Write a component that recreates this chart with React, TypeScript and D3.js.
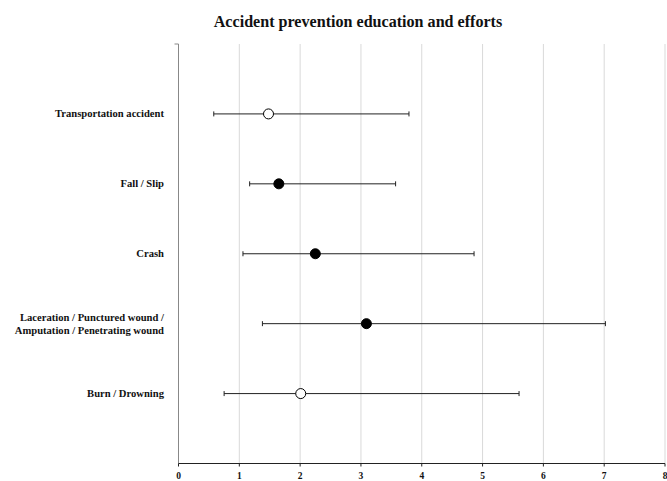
import React from "react";
import * as d3 from "d3";

const categories = [
  ["Transportation accident"],
  ["Fall / Slip"],
  ["Crash"],
  ["Laceration / Punctured wound /", "Amputation / Penetrating wound"],
  ["Burn / Drowning"],
];
const estimates = [1.48, 1.65, 2.25, 3.09, 2.01];
const lower = [0.58, 1.17, 1.06, 1.38, 0.75];
const upper = [3.79, 3.57, 4.86, 7.02, 5.6];
const filled = [false, true, true, true, false];
const xTicks = [0, 1, 2, 3, 4, 5, 6, 7, 8];
const title = "Accident prevention education and efforts";

export default function App() {
  const W = 667, H = 481;
  const left = 178.5, right = 665, top = 44, bottom = 463.5;
  const x = d3.scaleLinear().domain([0, 8]).range([left, right]);
  const y = d3.scalePoint<number>().domain(d3.range(categories.length)).range([top, bottom]).padding(1);
  const font = "'Liberation Serif', 'Times New Roman', serif";
  return (
    <svg width={W} height={H} style={{ position: "absolute", left: 0, top: 0 }} fontFamily={font}>
      <rect width={W} height={H} fill="#fff" />
      <text x={358} y={27} textAnchor="middle" fontSize={16.1} fontWeight="bold" fill="#111">{title}</text>
      {xTicks.slice(1).map((t) => (
        <line key={t} x1={x(t)} x2={x(t)} y1={top} y2={bottom} stroke="#d9d9d9" strokeWidth={1} />
      ))}
      <line x1={left} x2={left} y1={top} y2={bottom} stroke="#888" strokeWidth={1} />
      <line x1={left - 4} x2={left} y1={top} y2={top} stroke="#888" strokeWidth={1} />
      <line x1={left} x2={right} y1={bottom} y2={bottom} stroke="#222" strokeWidth={1.2} />
      {xTicks.map((t) => (
        <g key={t}>
          <line x1={x(t)} x2={x(t)} y1={bottom} y2={bottom + 3} stroke="#222" />
          <text x={x(t)} y={bottom + 15.5} textAnchor="middle" fontSize={9.5} fontWeight="bold" fill="#111">{t}</text>
        </g>
      ))}
      {categories.map((lines, i) => {
        const cy = y(i)!;
        return (
          <g key={i}>
            {lines.map((l, j) => (
              <text key={j} x={164} y={cy + 3.5 + (j - (lines.length - 1) / 2) * 13} textAnchor="end" fontSize={10.6} fontWeight="bold" fill="#111">{l}</text>
            ))}
            <line x1={x(lower[i])} x2={x(upper[i])} y1={cy} y2={cy} stroke="#222" strokeWidth={1} />
            <line x1={x(lower[i])} x2={x(lower[i])} y1={cy - 2.5} y2={cy + 2.5} stroke="#222" />
            <line x1={x(upper[i])} x2={x(upper[i])} y1={cy - 2.5} y2={cy + 2.5} stroke="#222" />
            <circle cx={x(estimates[i])} cy={cy} r={5} fill={filled[i] ? "#000" : "#fff"} stroke="#000" strokeWidth={1} />
          </g>
        );
      })}
    </svg>
  );
}
